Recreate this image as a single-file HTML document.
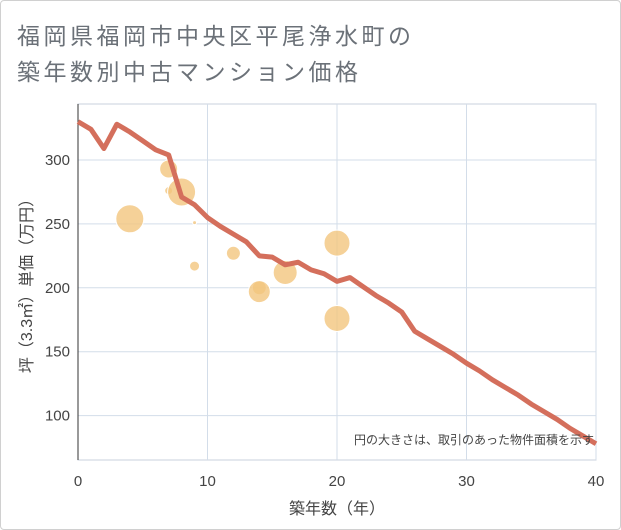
<!DOCTYPE html>
<html><head><meta charset="utf-8"><style>
body{margin:0;background:#fff;}
#c{position:relative;width:619px;height:528px;border:1px solid #d0d0d0;border-radius:4px;background:#fff;overflow:hidden;}
.t{position:absolute;left:16px;font:23px "Liberation Sans","Noto Sans CJK JP",sans-serif;color:#6b7178;letter-spacing:3.5px;white-space:nowrap;}
svg text{font-family:"Liberation Sans","Noto Sans CJK JP",sans-serif;}
</style></head><body>
<div id="c">
<div class="t" style="top:16px">福岡県福岡市中央区平尾浄水町の</div>
<div class="t" style="top:52px">築年数別中古マンション価格</div>
<svg id="s" width="621" height="530" style="position:absolute;left:-1px;top:-1px"></svg>
</div>
<script>
const lineYears=[0,1,2,3,4,5,6,7,8,9,10,11,12,13,14,15,16,17,18,19,20,21,22,23,24,25,26,27,28,29,30,31,32,33,34,35,36,37,38,39,40];
const lineValues=[330,324,309,328,322,315,308,304,271,265,255,248,242,236,225,224,218,220,214,211,205,208,201,194,188,181,166,160,154,148,141,135,128,122,116,109,103,97,90,84,78];
const bubbleYears=[4,7,7,8,9,9,12,14,14,16,20,20];
const bubbleValues=[254,293,276,275,251,217,227,200,197,212,235,176];
const bubbleSizes=[14,9,4,14,2,5,7,7,11,12,13,13];
const xTicks=[0,10,20,30,40];
const yTicks=[100,150,200,250,300];
const NS='http://www.w3.org/2000/svg';
const s=document.getElementById('s');
const X0=78,X1=596,Y0=460,Y1=104;
const xs=v=>X0+(X1-X0)*v/40;
const ys=v=>160+(300-v)*1.278;
function el(t,a,p){const e=document.createElementNS(NS,t);for(const k in a)e.setAttribute(k,a[k]);(p||s).appendChild(e);return e;}
const plot=el('rect',{x:X0,y:Y1,width:X1-X0,height:Y0-Y1,fill:'none',stroke:'#c8d0dc'});


xTicks.forEach(t=>{
 const g=el('line',{x1:xs(t),x2:xs(t),y1:Y1,y2:Y0,stroke:'#d3dde9'});
 
 
 const tx=el('text',{x:xs(t),y:486,'text-anchor':'middle','font-size':15,fill:'#444'});tx.textContent=t;
 
 
});
yTicks.forEach(t=>{
 const g=el('line',{x1:X0,x2:X1,y1:ys(t),y2:ys(t),stroke:'#d3dde9'});
 
 
 const tx=el('text',{x:70,y:ys(t)+5,'text-anchor':'end','font-size':15,fill:'#444'});tx.textContent=t;
 
 
});
const ax=el('line',{x1:X0,x2:X0,y1:Y1,y2:Y0,stroke:'#333'});


bubbleYears.forEach((y,i)=>{
 const c=el('circle',{cx:xs(y),cy:ys(bubbleValues[i]),r:bubbleSizes[i],fill:'#f3c57e','fill-opacity':0.8,stroke:'#fff','stroke-width':1});
 
 
});
const pl=el('polyline',{points:lineYears.map((y,i)=>xs(y)+','+ys(lineValues[i])).join(' '),fill:'none',stroke:'#d46f5c','stroke-width':5,'stroke-linejoin':'round'});


const n=el('text',{x:594,y:444,'text-anchor':'end','font-size':12,fill:'#444'});n.textContent='円の大きさは、取引のあった物件面積を示す';


const xt=el('text',{x:337,y:514,'text-anchor':'middle','font-size':16,fill:'#444'});xt.textContent='築年数（年）';


const yt=el('text',{x:0,y:0,'text-anchor':'middle','font-size':16,fill:'#444',transform:'translate(32,282) rotate(-90)'});yt.textContent='坪（3.3㎡）単価（万円）';


</script>
</body></html>
